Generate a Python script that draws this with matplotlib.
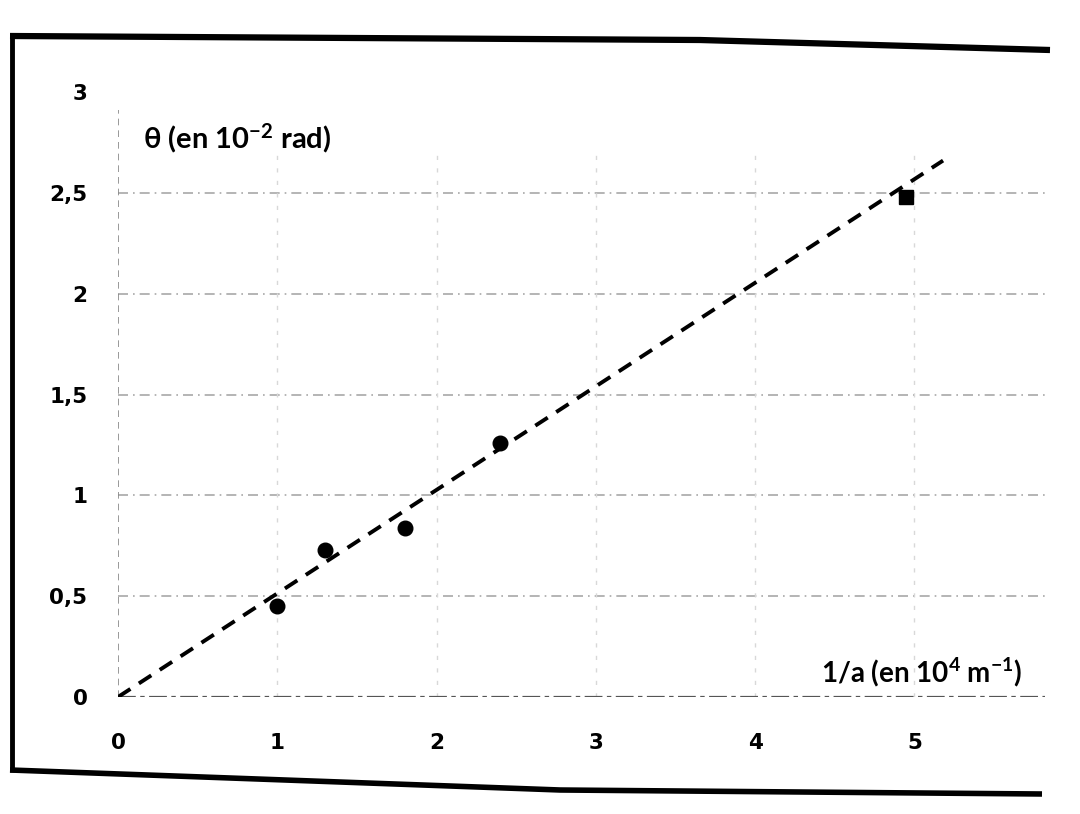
import matplotlib
matplotlib.use("Agg")
import matplotlib.pyplot as plt
from matplotlib.lines import Line2D

plt.rcParams['font.family'] = ['Liberation Sans Narrow', 'DejaVu Sans']
plt.rcParams['mathtext.default'] = 'regular'

# measured points : 1/a (en 10^4 m^-1) and theta (en 10^-2 rad)
inv_a = [1.0, 1.3, 1.8, 2.4]
theta = [0.45, 0.73, 0.84, 1.26]
inv_a_last = [4.95]
theta_last = [2.48]

# fitted line drawn through the origin
fit_x = [0.0, 5.18]
fit_y = [0.0, 2.66]

xticks = [0, 1, 2, 3, 4, 5]
yticks = [0, 0.5, 1, 1.5, 2, 2.5, 3]
ytick_labels = ['0', '0,5', '1', '1,5', '2', '2,5', '3']

W, H = 1080, 814
fig = plt.figure(figsize=(W / 100, H / 100), dpi=100)
ax = fig.add_axes([118 / W, 1 - 697 / H, 927 / W, 605 / H])
ax.set_xlim(0, 5.82)
ax.set_ylim(0, 3)
for s in ax.spines.values():
    s.set_visible(False)

# faint grid
for yv in yticks[1:-1]:
    ax.axhline(yv, color='#a8a8a8', lw=1.2, ls=(0, (6, 3, 1, 3)), zorder=1)
for xv in xticks[1:]:
    ax.axvline(xv, ymax=0.9, color='#d8d8d8', lw=1, ls=(0, (3, 6)), zorder=1)
ax.axhline(0, color='#555555', lw=1.6, ls=(0, (8, 2, 2, 2)), zorder=2)
ax.axvline(0, ymin=0.0, ymax=0.97, color='#888888', lw=1.2, ls=(0, (4, 3)), zorder=2)

ax.plot(fit_x, fit_y, color='black', lw=2.8, dashes=(3.8, 2.6), zorder=3)
ax.plot(inv_a, theta, 'o', color='black', ms=10.5, zorder=4)
ax.plot(inv_a_last, theta_last, 's', color='black', ms=10, zorder=4)

ax.set_xticks(xticks)
ax.set_xticklabels([str(v) for v in xticks])
ax.set_yticks(yticks)
ax.set_yticklabels(ytick_labels)
ax.tick_params(length=0, labelsize=15.5)
ax.tick_params(axis='x', pad=26)
ax.tick_params(axis='y', pad=22)
for lab in ax.get_xticklabels() + ax.get_yticklabels():
    lab.set_fontweight('bold')

ax.text(0.16, 2.72, r'θ (en 10$^{-2}$ rad)', fontsize=21, family=['Lato', 'DejaVu Sans'],
        va='baseline', ha='left', fontweight='bold')
ax.text(5.68, 0.07, r'1/a (en 10$^{4}$ m$^{-1}$)', fontsize=20, family=['Lato', 'DejaVu Sans'],
        va='baseline', ha='right', fontweight='bold')

# scanned page frame
def frame(xs, ys, lw):
    fig.add_artist(Line2D([x / W for x in xs], [1 - y / H for y in ys],
                          color='black', lw=lw, solid_capstyle='butt'))

frame([10, 700, 1050], [36, 40, 50], 4.5)
frame([12, 12], [34, 772], 3.5)
frame([10, 560, 1042], [770, 790, 794], 4)

fig.savefig('out.png', dpi=100, facecolor='white')
